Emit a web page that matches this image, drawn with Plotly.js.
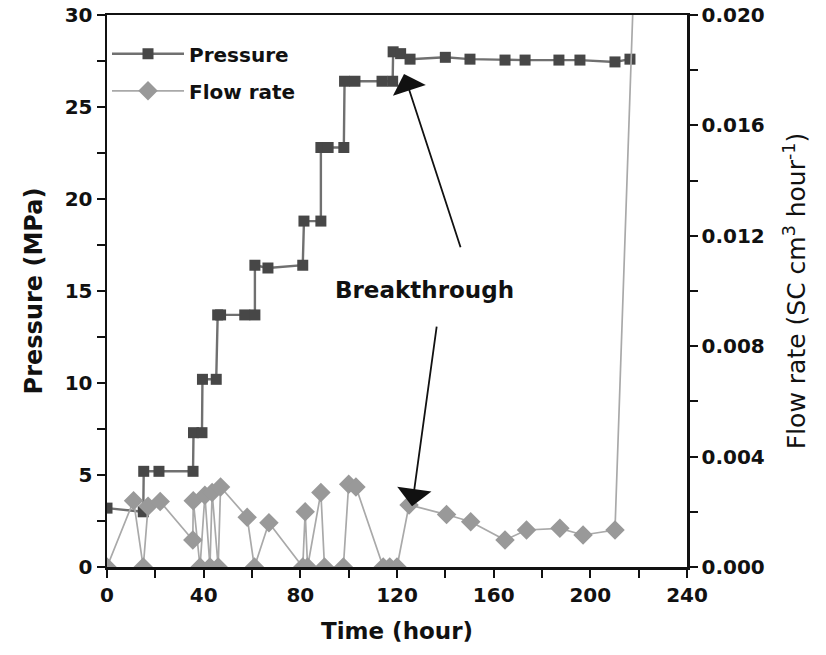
<!DOCTYPE html>
<html>
<head>
<meta charset="utf-8">
<script src="https://cdn.plot.ly/plotly-3.0.1.min.js"></script>
<style>html,body{margin:0;padding:0;background:#fff;}#chart{width:826px;height:655px;}</style>
</head>
<body>
<div id="chart"></div>
<script>
// Pressure series (MPa) vs time (hour)
const pressureTime = [0, 15, 15.2, 21.5, 35.6, 35.8, 39.3, 39.5, 45.2, 45.8, 47, 57, 61.2, 61.2, 66.6, 81, 81.5, 88.5, 88.5, 91.5, 98, 98.3, 102.6, 113.8, 118.2, 118.4, 121.5, 125.4, 140, 150.2, 164.7, 173, 187, 195.7, 210.2, 216.4];
const pressureValues = [3.2, 3.0, 5.2, 5.2, 5.2, 7.3, 7.3, 10.2, 10.2, 13.7, 13.7, 13.7, 13.7, 16.4, 16.25, 16.4, 18.8, 18.8, 22.8, 22.8, 22.8, 26.4, 26.4, 26.4, 26.4, 28.0, 27.9, 27.6, 27.7, 27.6, 27.55, 27.55, 27.55, 27.55, 27.45, 27.6];

// Flow rate series (SC cm3/hour) vs time (hour)
const flowTime = [0, 11, 15, 17, 22, 35.5, 35.7, 38.5, 40.5, 42.6, 43.5, 46, 47, 58, 61, 67, 81, 82, 83, 88.5, 90, 97.8, 100, 103, 114.3, 117, 120, 125, 140.5, 150.5, 164.7, 173.6, 187.4, 197, 210.2, 218];
const flowValues = [0, 0.0024, 0, 0.0022, 0.00237, 0.00098, 0.0024, 0, 0.0026, 0, 0.0027, 0, 0.0029, 0.0018, 0, 0.0016, 0, 0.002, 0, 0.0027, 0, 0, 0.003, 0.0029, 0, 0, 0, 0.00225, 0.0019, 0.00164, 0.00098, 0.00134, 0.0014, 0.00116, 0.00134, 0.0212];

const seriesNames = ["Pressure", "Flow rate"];

// Axis tick labels
const xTickVals = [0, 40, 80, 120, 160, 200, 240];
const yTickVals = [0, 5, 10, 15, 20, 25, 30];
const y2TickVals = [0, 0.004, 0.008, 0.012, 0.016, 0.020];
const y2TickText = ["0.000", "0.004", "0.008", "0.012", "0.016", "0.020"];

const FONT = "DejaVu Sans, Arial, sans-serif";

const traces = [
  {
    x: pressureTime, y: pressureValues, name: seriesNames[0],
    type: "scatter", mode: "lines+markers", legendgroup: "p",
    line: {color: "#707070", width: 2.4},
    marker: {symbol: "square", size: 11, color: "#474747"},
    xaxis: "x", yaxis: "y"
  },
  {
    x: flowTime, y: flowValues, name: seriesNames[1],
    type: "scatter", mode: "lines+markers", legendgroup: "f",
    line: {color: "#a9a9a9", width: 1.7},
    marker: {symbol: "diamond", size: 15, color: "#999999"},
    xaxis: "x", yaxis: "y2"
  }
];

const tickFont = {family: FONT, size: 20, color: "#111", weight: "bold"};

const layout = {
  width: 826, height: 655,
  margin: {l: 107, r: 139, t: 15, b: 88},
  paper_bgcolor: "#fff", plot_bgcolor: "#fff",
  showlegend: true,
  legend: {
    x: 0.0, y: 0.965, xanchor: "left", yanchor: "top",
    bgcolor: "rgba(0,0,0,0)", itemwidth: 72,
    traceorder: "grouped", tracegroupgap: 8,
    font: {family: FONT, size: 20, color: "#111", weight: "bold"}
  },
  xaxis: {
    range: [0, 240], tickvals: xTickVals,
    ticks: "outside", ticklen: 8, tickwidth: 2, tickcolor: "#111",
    minor: {dtick: 20, tick0: 0, ticks: "outside", ticklen: 8, tickwidth: 2, tickcolor: "#111", showgrid: false},
    showline: true, linecolor: "#111", linewidth: 2.5, mirror: true,
    showgrid: false, zeroline: false,
    tickfont: tickFont,
    title: {text: "Time (hour)", font: {family: FONT, size: 23, color: "#111", weight: "bold"}, standoff: 18}
  },
  yaxis: {
    range: [0, 30], tickvals: yTickVals,
    ticks: "outside", ticklen: 8, tickwidth: 2, tickcolor: "#111",
    minor: {dtick: 2.5, tick0: 0, ticks: "outside", ticklen: 8, tickwidth: 2, tickcolor: "#111", showgrid: false},
    showline: true, linecolor: "#111", linewidth: 2.5,
    showgrid: false, zeroline: false,
    tickfont: tickFont,
    title: {text: "Pressure (MPa)", font: {family: FONT, size: 24, color: "#111", weight: "bold"}, standoff: 16}
  },
  yaxis2: {
    range: [0, 0.02], overlaying: "y", side: "right",
    tickvals: y2TickVals, ticktext: y2TickText,
    ticks: "outside", ticklen: 8, tickwidth: 2, tickcolor: "#111",
    minor: {dtick: 0.002, tick0: 0, ticks: "outside", ticklen: 8, tickwidth: 2, tickcolor: "#111", showgrid: false},
    showline: true, linecolor: "#111", linewidth: 2.5,
    showgrid: false, zeroline: false,
    tickfont: tickFont,
    title: {text: "Flow rate (SC cm<sup>3</sup> hour<sup>-1</sup>)", font: {family: FONT, size: 25, color: "#111"}, standoff: 24}
  },
  annotations: [
    {x: 131.2, y: 15.05, xref: "x", yref: "y", text: "Breakthrough", showarrow: false,
     font: {family: FONT, size: 23, color: "#111", weight: "bold"}},
    {x: 122.9, y: 26.8, xref: "x", yref: "y", ax: 146.5, ay: 17.3, axref: "x", ayref: "y",
     text: "", showarrow: true, arrowhead: 1, arrowsize: 3.2, arrowwidth: 1.8, arrowcolor: "#111"},
    {x: 126.2, y: 3.3, xref: "x", yref: "y", ax: 136.5, ay: 13.15, axref: "x", ayref: "y",
     text: "", showarrow: true, arrowhead: 1, arrowsize: 3.2, arrowwidth: 1.8, arrowcolor: "#111"}
  ]
};

Plotly.newPlot("chart", traces, layout, {displayModeBar: false, staticPlot: true});
</script>
</body>
</html>
